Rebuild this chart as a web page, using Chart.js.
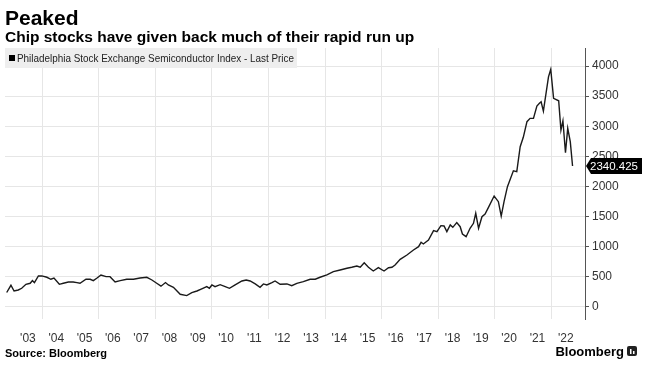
<!DOCTYPE html>
<html>
<head>
<meta charset="utf-8">
<script src="https://cdn.jsdelivr.net/npm/chart.js@4/dist/chart.umd.min.js"></script>
<style>
  html, body { margin: 0; padding: 0; background: #fff; }
  canvas { display: block; }
</style>
</head>
<body>
<canvas id="chart" width="648" height="370"></canvas>
<script>
const title = 'Peaked';
const subtitle = 'Chip stocks have given back much of their rapid run up';
const seriesName = 'Philadelphia Stock Exchange Semiconductor Index - Last Price';
const sourceText = 'Source: Bloomberg';

// dates as decimal years
const dates = [
  2002.75, 2002.90, 2003.01, 2003.16, 2003.28, 2003.43, 2003.58, 2003.66, 2003.73, 2003.87,
  2003.99, 2004.17, 2004.31, 2004.42, 2004.61, 2004.75, 2004.93, 2005.10, 2005.23, 2005.34,
  2005.55, 2005.70, 2005.81, 2005.93, 2006.08, 2006.26, 2006.40, 2006.58, 2006.76, 2006.99,
  2007.23, 2007.46, 2007.70, 2007.88, 2008.05, 2008.20, 2008.36, 2008.46, 2008.64, 2008.88,
  2009.11, 2009.29, 2009.47, 2009.64, 2009.82, 2009.91, 2010.00, 2010.11, 2010.29, 2010.47,
  2010.62, 2010.82, 2011.06, 2011.21, 2011.35, 2011.53, 2011.70, 2011.82, 2011.94, 2012.12,
  2012.23, 2012.41, 2012.65, 2012.82, 2013.00, 2013.23, 2013.47, 2013.65, 2013.82, 2014.06,
  2014.29, 2014.53, 2014.77, 2014.94, 2015.12, 2015.24, 2015.38, 2015.53, 2015.70, 2015.88,
  2016.08, 2016.24, 2016.36, 2016.47, 2016.65, 2016.89, 2017.12, 2017.30, 2017.39, 2017.47,
  2017.65, 2017.83, 2017.95, 2018.09, 2018.20, 2018.30, 2018.42, 2018.51, 2018.65, 2018.77,
  2018.85, 2018.98, 2019.12, 2019.24, 2019.32, 2019.42, 2019.54, 2019.65, 2019.77, 2019.97,
  2020.12, 2020.22, 2020.32, 2020.44, 2020.65, 2020.77, 2020.89, 2021.00, 2021.13, 2021.24,
  2021.36, 2021.48, 2021.57, 2021.63, 2021.71, 2021.89, 2021.97, 2022.07, 2022.25, 2022.33,
  2022.40, 2022.49, 2022.57, 2022.66, 2022.74
];
const values = [
  240, 360, 265, 282, 310, 376, 393, 437, 404, 515,
  515, 493, 460, 481, 376, 393, 415, 415, 404, 393,
  460, 460, 437, 476, 531, 503, 503, 415, 437, 460,
  460, 481, 493, 448, 393, 345, 405, 365, 327, 210,
  188, 237, 265, 299, 337, 310, 365, 337, 370, 337,
  310, 365, 431, 448, 431, 382, 327, 382, 365, 404,
  431, 376, 382, 354, 393, 420, 460, 460, 493, 531,
  586, 614, 642, 659, 680, 659, 735, 659, 597, 652,
  597, 652, 659, 697, 791, 863, 946, 1001, 1074, 1046,
  1112, 1267, 1250, 1350, 1344, 1250, 1361, 1322, 1400, 1333,
  1212, 1167, 1306, 1389, 1555, 1306, 1499, 1543, 1654, 1842,
  1748, 1510, 1748, 1997, 2262, 2246, 2661, 2817, 3076, 3132,
  3132, 3336, 3381, 3407, 3253, 3822, 3945, 3464, 3424, 2938,
  3092, 2561, 2966, 2744, 2340.425
];

// x axis: labels sit mid-year, gridlines on every other year start
const labelYears = [2003, 2004, 2005, 2006, 2007, 2008, 2009, 2010, 2011, 2012,
  2013, 2014, 2015, 2016, 2017, 2018, 2019, 2020, 2021, 2022];
const yearLabels = ["'03", "'04", "'05", "'06", "'07", "'08", "'09", "'10", "'11", "'12",
  "'13", "'14", "'15", "'16", "'17", "'18", "'19", "'20", "'21", "'22"];
const gridYears = [2004, 2006, 2008, 2010, 2012, 2014, 2016, 2018, 2020, 2022];

// y axis: major ticks labelled, minor ticks in between
const yMajor = [0, 500, 1000, 1500, 2000, 2500, 3000, 3500, 4000];
const yMinor = [250, 750, 1250, 1750, 2250, 2750, 3250, 3750, 4250];

const FONT = '"Liberation Sans", Arial, sans-serif';
const GRID = '#e6e6e6';

const decorations = {
  id: 'decorations',
  beforeDatasetsDraw(chart) {
    const ctx = chart.ctx;
    ctx.save();
    ctx.fillStyle = '#eeeeee';
    ctx.fillRect(5, 48, 292, 20);
    ctx.fillStyle = '#000';
    ctx.fillRect(9, 55, 6, 6);
    ctx.font = '11px ' + FONT;
    ctx.textBaseline = 'middle';
    const w = ctx.measureText(seriesName).width;
    ctx.translate(17, 58.5);
    ctx.scale(Math.min(1, 277 / w), 1);
    ctx.fillStyle = '#222';
    ctx.fillText(seriesName, 0, 0);
    ctx.restore();
  },
  afterDraw(chart) {
    const ctx = chart.ctx;
    const area = chart.chartArea;
    ctx.save();
    ctx.fillStyle = '#000';
    ctx.textBaseline = 'alphabetic';
    ctx.font = 'bold 21px ' + FONT;
    ctx.fillText(title, 5, 25);
    ctx.font = 'bold 15.5px ' + FONT;
    ctx.fillText(subtitle, 5, 42);
    ctx.font = 'bold 11px ' + FONT;
    ctx.fillText(sourceText, 5, 357);

    // logo
    ctx.font = 'bold 13px ' + FONT;
    ctx.textAlign = 'right';
    ctx.fillText('Bloomberg', 624, 356);
    ctx.fillStyle = '#222';
    ctx.beginPath();
    ctx.roundRect(627, 346, 10, 10, 2);
    ctx.fill();
    ctx.fillStyle = '#fff';
    ctx.fillRect(630, 349, 1.5, 5);
    ctx.fillRect(633, 351, 1.5, 3);

    // last price tag
    const last = values[values.length - 1];
    const y = chart.scales.y.getPixelForValue(last);
    const x0 = area.right;
    ctx.fillStyle = '#000';
    ctx.beginPath();
    ctx.moveTo(x0 + 1, y);
    ctx.lineTo(x0 + 6, y - 8);
    ctx.lineTo(642, y - 8);
    ctx.lineTo(642, y + 8);
    ctx.lineTo(x0 + 6, y + 8);
    ctx.closePath();
    ctx.fill();
    ctx.fillStyle = '#fff';
    ctx.textAlign = 'left';
    ctx.textBaseline = 'middle';
    ctx.font = '11.5px ' + FONT;
    ctx.fillText(last.toFixed(3), x0 + 5, y + 0.5);
    ctx.restore();
  }
};

new Chart(document.getElementById('chart'), {
  type: 'line',
  data: {
    datasets: [{
      label: seriesName,
      data: dates.map((d, i) => ({ x: d, y: values[i] })),
      borderColor: '#1a1a1a',
      borderWidth: 1.4,
      pointRadius: 0,
      tension: 0,
    }],
  },
  options: {
    responsive: false,
    animation: false,
    devicePixelRatio: 1,
    layout: { padding: { left: 5, top: 48, right: 0, bottom: 21 } },
    plugins: {
      legend: { display: false },
      tooltip: { enabled: false },
    },
    scales: {
      x: {
        type: 'linear',
        min: 2002.69,
        max: 2023.18,
        border: { display: false },
        afterBuildTicks: scale => {
          const ticks = [];
          labelYears.forEach(yr => ticks.push({ value: yr + 0.5 }));
          gridYears.forEach(yr => ticks.push({ value: yr }));
          scale.ticks = ticks.sort((a, b) => a.value - b.value);
        },
        afterFit: scale => { scale.height = 30; },
        grid: {
          drawTicks: false,
          color: c => (gridYears.includes(c.tick && c.tick.value) ? GRID : 'rgba(0,0,0,0)'),
        },
        ticks: {
          autoSkip: false,
          maxRotation: 0,
          padding: 12,
          color: '#333',
          font: { family: FONT, size: 12 },
          callback: v => {
            const i = labelYears.indexOf(v - 0.5);
            return i >= 0 ? yearLabels[i] : '';
          },
        },
      },
      y: {
        position: 'right',
        min: -200,
        max: 4300,
        border: { color: '#555', width: 1 },
        afterBuildTicks: scale => {
          scale.ticks = yMajor.concat(yMinor).sort((a, b) => a - b).map(v => ({ value: v }));
        },
        afterFit: scale => { scale.width = 63; },
        grid: {
          color: c => (yMajor.includes(c.tick && c.tick.value) ? GRID : 'rgba(0,0,0,0)'),
          tickColor: '#555',
          tickLength: 4,
        },
        ticks: {
          padding: 3,
          color: '#333',
          font: { family: FONT, size: 12 },
          callback: v => (yMajor.includes(v) ? String(v) : ''),
        },
      },
    },
  },
  plugins: [decorations],
});
</script>
</body>
</html>
